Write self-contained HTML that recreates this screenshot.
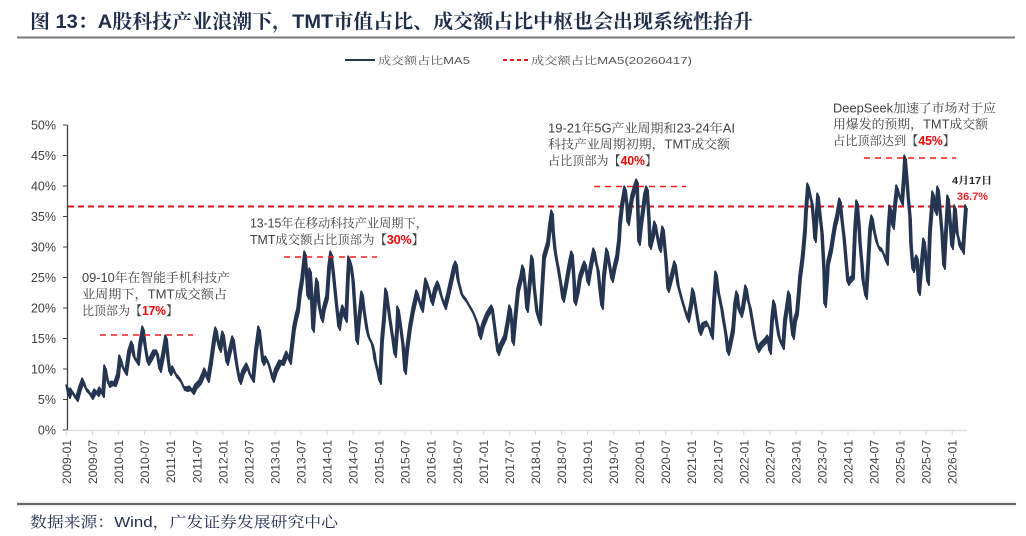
<!DOCTYPE html>
<html><head><meta charset="utf-8">
<style>
html,body{margin:0;padding:0;background:#fff;}
svg{display:block;}
text{font-family:"Liberation Sans","Noto Serif CJK SC",serif;}
.sans{font-family:"Liberation Sans","Noto Sans CJK SC",sans-serif;}
</style></head>
<body>
<svg width="1026" height="536" viewBox="0 0 1026 536" xmlns="http://www.w3.org/2000/svg">
<rect width="1026" height="536" fill="#fff"/>
<!-- Title -->
<text x="30" y="28" font-size="19.5" font-weight="bold" fill="#1f2d4d" textLength="723" lengthAdjust="spacingAndGlyphs">图  13：A股科技产业浪潮下，TMT市值占比、成交额占比中枢也会出现系统性抬升</text>
<line x1="17" y1="37.5" x2="1015" y2="37.5" stroke="#777" stroke-width="2"/>

<!-- Legend -->
<line x1="345" y1="60" x2="375" y2="60" stroke="#243552" stroke-width="2"/>
<text x="378" y="64" font-size="10.5" fill="#555" textLength="92" lengthAdjust="spacingAndGlyphs">成交额占比MA5</text>
<line x1="503" y1="60" x2="528" y2="60" stroke="#e8141a" stroke-width="2" stroke-dasharray="4,3"/>
<text x="531" y="64" font-size="10.5" fill="#555" textLength="161" lengthAdjust="spacingAndGlyphs">成交额占比MA5(20260417)</text>

<!-- Y axis -->
<line x1="67.5" y1="125" x2="67.5" y2="430" stroke="#404040" stroke-width="1.3"/>
<g stroke="#404040" stroke-width="1">
<line x1="63" y1="125" x2="67.5" y2="125"/><line x1="63" y1="155.5" x2="67.5" y2="155.5"/>
<line x1="63" y1="186" x2="67.5" y2="186"/><line x1="63" y1="216.5" x2="67.5" y2="216.5"/>
<line x1="63" y1="247" x2="67.5" y2="247"/><line x1="63" y1="277.5" x2="67.5" y2="277.5"/>
<line x1="63" y1="308" x2="67.5" y2="308"/><line x1="63" y1="338.5" x2="67.5" y2="338.5"/>
<line x1="63" y1="369" x2="67.5" y2="369"/><line x1="63" y1="399.5" x2="67.5" y2="399.5"/>
<line x1="63" y1="430" x2="67.5" y2="430"/>
</g>
<g font-size="12.5" fill="#404040" text-anchor="end" class="sans">
<text x="56" y="129.5">50%</text><text x="56" y="160">45%</text><text x="56" y="190.5">40%</text>
<text x="56" y="221">35%</text><text x="56" y="251.5">30%</text><text x="56" y="282">25%</text>
<text x="56" y="312.5">20%</text><text x="56" y="343">15%</text><text x="56" y="373.5">10%</text>
<text x="56" y="404">5%</text><text x="56" y="434.5">0%</text>
</g>

<!-- X axis -->
<line x1="67" y1="430.5" x2="967" y2="430.5" stroke="#d9d9d9" stroke-width="1.2"/>
<g stroke="#d9d9d9" stroke-width="1">
<line x1="66.5" y1="430" x2="66.5" y2="435"/><line x1="92.6" y1="430" x2="92.6" y2="435"/><line x1="118.6" y1="430" x2="118.6" y2="435"/><line x1="144.7" y1="430" x2="144.7" y2="435"/><line x1="170.7" y1="430" x2="170.7" y2="435"/><line x1="196.8" y1="430" x2="196.8" y2="435"/><line x1="222.8" y1="430" x2="222.8" y2="435"/><line x1="248.9" y1="430" x2="248.9" y2="435"/><line x1="274.9" y1="430" x2="274.9" y2="435"/><line x1="301" y1="430" x2="301" y2="435"/><line x1="327" y1="430" x2="327" y2="435"/><line x1="353.1" y1="430" x2="353.1" y2="435"/><line x1="379.1" y1="430" x2="379.1" y2="435"/><line x1="405.2" y1="430" x2="405.2" y2="435"/><line x1="431.2" y1="430" x2="431.2" y2="435"/><line x1="457.3" y1="430" x2="457.3" y2="435"/><line x1="483.3" y1="430" x2="483.3" y2="435"/><line x1="509.4" y1="430" x2="509.4" y2="435"/><line x1="535.4" y1="430" x2="535.4" y2="435"/><line x1="561.5" y1="430" x2="561.5" y2="435"/><line x1="587.5" y1="430" x2="587.5" y2="435"/><line x1="613.6" y1="430" x2="613.6" y2="435"/><line x1="639.6" y1="430" x2="639.6" y2="435"/><line x1="665.7" y1="430" x2="665.7" y2="435"/><line x1="691.7" y1="430" x2="691.7" y2="435"/><line x1="717.8" y1="430" x2="717.8" y2="435"/><line x1="743.8" y1="430" x2="743.8" y2="435"/><line x1="769.9" y1="430" x2="769.9" y2="435"/><line x1="795.9" y1="430" x2="795.9" y2="435"/><line x1="822" y1="430" x2="822" y2="435"/><line x1="848" y1="430" x2="848" y2="435"/><line x1="874.1" y1="430" x2="874.1" y2="435"/><line x1="900.1" y1="430" x2="900.1" y2="435"/><line x1="926.2" y1="430" x2="926.2" y2="435"/><line x1="952.2" y1="430" x2="952.2" y2="435"/>
</g>
<g font-size="12" fill="#404040" text-anchor="end" class="sans">
<text transform="translate(71,440) rotate(-90)">2009-01</text>
<text transform="translate(97.1,440) rotate(-90)">2009-07</text>
<text transform="translate(123.1,440) rotate(-90)">2010-01</text>
<text transform="translate(149.2,440) rotate(-90)">2010-07</text>
<text transform="translate(175.2,440) rotate(-90)">2011-01</text>
<text transform="translate(201.3,440) rotate(-90)">2011-07</text>
<text transform="translate(227.3,440) rotate(-90)">2012-01</text>
<text transform="translate(253.4,440) rotate(-90)">2012-07</text>
<text transform="translate(279.4,440) rotate(-90)">2013-01</text>
<text transform="translate(305.5,440) rotate(-90)">2013-07</text>
<text transform="translate(331.5,440) rotate(-90)">2014-01</text>
<text transform="translate(357.6,440) rotate(-90)">2014-07</text>
<text transform="translate(383.6,440) rotate(-90)">2015-01</text>
<text transform="translate(409.7,440) rotate(-90)">2015-07</text>
<text transform="translate(435.7,440) rotate(-90)">2016-01</text>
<text transform="translate(461.8,440) rotate(-90)">2016-07</text>
<text transform="translate(487.8,440) rotate(-90)">2017-01</text>
<text transform="translate(513.9,440) rotate(-90)">2017-07</text>
<text transform="translate(539.9,440) rotate(-90)">2018-01</text>
<text transform="translate(566,440) rotate(-90)">2018-07</text>
<text transform="translate(592,440) rotate(-90)">2019-01</text>
<text transform="translate(618.1,440) rotate(-90)">2019-07</text>
<text transform="translate(644.1,440) rotate(-90)">2020-01</text>
<text transform="translate(670.2,440) rotate(-90)">2020-07</text>
<text transform="translate(696.2,440) rotate(-90)">2021-01</text>
<text transform="translate(722.3,440) rotate(-90)">2021-07</text>
<text transform="translate(748.3,440) rotate(-90)">2022-01</text>
<text transform="translate(774.4,440) rotate(-90)">2022-07</text>
<text transform="translate(800.4,440) rotate(-90)">2023-01</text>
<text transform="translate(826.5,440) rotate(-90)">2023-07</text>
<text transform="translate(852.5,440) rotate(-90)">2024-01</text>
<text transform="translate(878.6,440) rotate(-90)">2024-07</text>
<text transform="translate(904.6,440) rotate(-90)">2025-01</text>
<text transform="translate(930.7,440) rotate(-90)">2025-07</text>
<text transform="translate(956.7,440) rotate(-90)">2026-01</text>
</g>

<!-- Reference red dashed line 36.7% -->
<line x1="68" y1="206.5" x2="966" y2="206.5" stroke="#e0141a" stroke-width="2" stroke-dasharray="6,4"/>

<!-- Data series -->
<g fill="none" stroke="#243552" stroke-linejoin="round">
<polyline id="ser" stroke-width="2" points="67,386 69,396 71,390 74,395 77,399 80,388 83,380 86,389 89,392 92,397 95,391 98,394 100,389 103,395 105,367 107,378 109,385 112,383 115,384 118,375 120,357 123,368 126,373 129,352 132,343 134,357 136,360 138,363 140,345 143,328 145,345 148,363 151,358 154,352 157,352 160,370 163,355 166,337 168,358 170,373 173,368 176,375 178,377 181,381 184,388 187,389 190,388 193,392 196,386 200,382 203,375 205,370 207,378 208,380 211,362 214,340 216,329 218,342 220,350 223,333 225,348 227,363 230,350 233,338 236,360 238,372 240,382 243,372 247,365 250,375 253,380 256,350 259,328 261,345 263,363 266,358 268,362 271,372 273,380 276,370 280,362 283,363 287,353 290,362 292,345 294,328 296,318 298,310 300,292 302,280 304,262 305,253 307,280 308,297 310,270 311,285 313,330 315,300 317,280 319,305 322,320 324,308 327,297 329,268 331,253 333,270 334,280 336,300 339,328 341,315 343,307 345,318 346,320 348,275 349,258 351,265 353,280 355,310 357,342 359,320 362,293 364,310 367,330 369,338 372,343 374,352 375,360 378,372 380,382 382,340 384,318 386,290 388,305 390,320 393,340 395,355 397,330 398,308 400,322 403,345 405,372 407,350 410,327 413,310 417,292 419,300 422,310 424,295 426,280 429,290 432,303 435,290 438,283 441,295 445,307 448,295 452,277 454,268 456,263 458,280 462,295 466,300 470,307 473,312 475,317 478,325 480,337 483,325 487,315 490,310 492,307 495,330 498,353 501,345 505,337 508,320 510,307 512,325 513,343 516,310 518,290 521,278 523,267 525,285 527,310 530,280 532,257 534,285 537,313 540,323 542,290 544,257 546,250 548,243 550,225 552,212 553,230 555,250 557,262 558,267 561,285 563,300 566,285 568,273 570,262 572,253 574,280 575,303 578,290 580,277 583,268 585,263 587,275 588,283 591,265 594,250 596,262 598,270 600,290 602,307 604,275 607,250 610,268 612,280 615,265 617,257 619,240 620,223 622,205 625,188 627,205 628,223 630,210 632,197 634,190 637,181 638,215 639,243 641,225 643,210 645,195 647,188 649,220 650,247 653,235 655,223 658,240 660,250 662,235 663,228 666,260 668,290 672,275 675,263 678,285 682,300 685,310 688,320 691,305 693,290 697,315 700,333 703,325 707,323 710,330 712,337 714,300 716,273 718,290 720,300 722,310 723,317 726,335 728,353 730,345 733,330 735,305 737,293 739,310 741,315 743,307 746,287 748,300 750,307 753,325 755,337 758,350 761,345 763,343 766,340 768,337 770,352 772,320 774,302 777,325 779,337 781,343 783,347 785,320 787,307 789,293 791,320 793,337 795,320 797,313 799,290 800,277 802,262 803,253 805,230 806,210 808,185 810,195 812,203 814,225 815,240 817,210 818,195 820,215 822,233 824,270 825,305 827,280 828,263 831,250 833,237 835,225 837,217 839,205 840,200 842,220 844,237 846,260 848,283 850,280 853,277 855,230 857,202 859,225 860,243 862,265 863,280 866,297 868,265 870,230 872,217 874,230 877,243 879,248 882,250 884,255 887,263 888,235 890,207 892,215 893,227 895,205 897,187 899,195 902,203 904,175 905,157 907,180 908,195 910,217 911,245 913,270 915,262 917,257 919,293 921,270 924,240 926,260 928,283 930,230 933,193 935,205 936,213 938,188 940,210 942,233 944,267 946,230 948,197 950,220 952,247 954,225 955,207 957,233 959,240 960,247 962,245 963,252 964,235 966,206"/>
<use href="#ser" transform="translate(0.9,2)" stroke-width="1.4"/>
<use href="#ser" transform="translate(-0.8,-1.6)" stroke-width="1.2"/>
</g>

<!-- Annotation dashed lines -->
<g stroke="#ff1a1a" stroke-width="1.6" stroke-dasharray="6,5">
<line x1="100" y1="335" x2="193" y2="335"/>
<line x1="284" y1="257" x2="377" y2="257"/>
<line x1="594" y1="186.5" x2="686" y2="186.5"/>
<line x1="864" y1="158" x2="956" y2="158"/>
</g>

<!-- Annotations -->
<g font-size="12.5" fill="#404040">
<text x="82" y="282" textLength="148" lengthAdjust="spacingAndGlyphs">09-10年在智能手机科技产</text>
<text x="82" y="298.5" textLength="145" lengthAdjust="spacingAndGlyphs">业周期下，TMT成交额占</text>
<text x="82" y="315" textLength="96" lengthAdjust="spacingAndGlyphs">比顶部为【<tspan fill="#ff0000" font-weight="bold">17%</tspan>】</text>

<text x="250" y="227.5" textLength="178" lengthAdjust="spacingAndGlyphs">13-15年在移动科技产业周期下，</text>
<text x="250" y="244" textLength="174" lengthAdjust="spacingAndGlyphs">TMT成交额占比顶部为【<tspan fill="#ff0000" font-weight="bold">30%</tspan>】</text>

<text x="548" y="132.5" textLength="187" lengthAdjust="spacingAndGlyphs">19-21年5G产业周期和23-24年AI</text>
<text x="548" y="148.5" textLength="182" lengthAdjust="spacingAndGlyphs">科技产业周期初期，TMT成交额</text>
<text x="548" y="165" textLength="109" lengthAdjust="spacingAndGlyphs">占比顶部为【<tspan fill="#ff0000" font-weight="bold">40%</tspan>】</text>

<text x="833" y="112.5" textLength="163" lengthAdjust="spacingAndGlyphs">DeepSeek加速了市场对于应</text>
<text x="833" y="128.5" textLength="155" lengthAdjust="spacingAndGlyphs">用爆发的预期，TMT成交额</text>
<text x="833" y="145" textLength="122" lengthAdjust="spacingAndGlyphs">占比顶部达到【<tspan fill="#ff0000" font-weight="bold">45%</tspan>】</text>
</g>
<text x="952" y="184" font-size="10" font-weight="bold" fill="#262626" textLength="40" lengthAdjust="spacingAndGlyphs">4月17日</text>
<text x="957" y="200" font-size="11" font-weight="bold" fill="#ff2020" textLength="31" lengthAdjust="spacingAndGlyphs">36.7%</text>

<!-- Bottom -->
<line x1="17" y1="504" x2="1016" y2="504" stroke="#666" stroke-width="2.2"/>
<text x="30" y="527" font-size="15" fill="#1f2d4d" textLength="308" lengthAdjust="spacingAndGlyphs">数据来源：Wind，广发证券发展研究中心</text>
</svg>
</body></html>
